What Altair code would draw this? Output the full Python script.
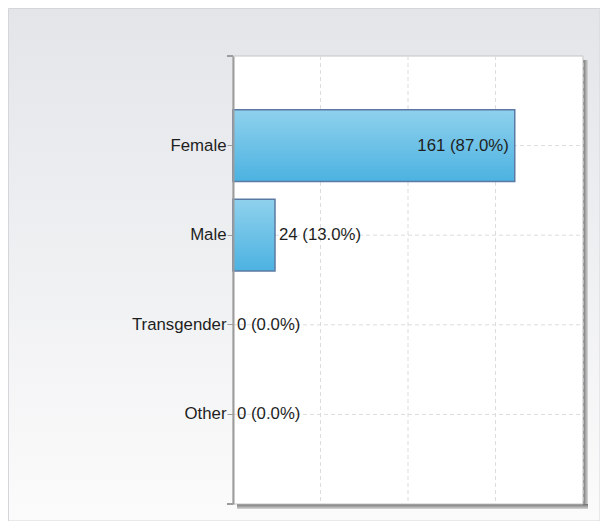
import altair as alt
import pandas as pd

categories = ["Female", "Male", "Transgender", "Other"]
counts = [161, 24, 0, 0]
percents = [87.0, 13.0, 0.0, 0.0]
grid_values = [50, 100, 150, 200]
x_max = 200

W, H = 350, 448
PL, PT, PR, PB = 225, 48, 17, 17
FONT = "Liberation Sans"
FS = 16.8

df = pd.DataFrame({
    "category": categories,
    "count": counts,
    "label": [f"{c} ({p:.1f}%)" for c, p in zip(counts, percents)],
})
grid_df = pd.DataFrame({"g": grid_values})
one = pd.DataFrame({"a": [0]})

xscale = alt.Scale(domain=[0, x_max], nice=False, zero=True)
yscale = alt.Scale(domain=categories, paddingInner=0.2, paddingOuter=0.6)

yaxis = alt.Axis(zindex=2, domainColor="#9c9c9c", domainWidth=2, tickColor="#9c9c9c",
                 tickSize=6, labelPadding=1, labelColor="#1e1e1e",
                 labelFont=FONT, labelFontSize=FS, grid=False, title=None)
ycat = alt.Y("category:N", sort=categories, scale=yscale, title=None, axis=yaxis)

bg = alt.Chart(one).mark_rect(
    fill=alt.LinearGradient(gradient="linear", x1=0, y1=0, x2=0, y2=1,
                            stops=[alt.GradientStop(offset=0, color="#e3e5e9"),
                                   alt.GradientStop(offset=1, color="#fbfbfb")]),
    stroke="#d4d6da", strokeWidth=1,
).encode(x=alt.value(-PL + 0.5), x2=alt.value(W + PR), y=alt.value(-PT + 0.5), y2=alt.value(H + PB))

shadow_r = alt.Chart(one).mark_rect(
    fill=alt.LinearGradient(gradient="linear", x1=0, y1=0, x2=1, y2=0,
                            stops=[alt.GradientStop(offset=0, color="#6e6e6e"),
                                   alt.GradientStop(offset=1, color="#d8d8d8")]),
).encode(x=alt.value(W), x2=alt.value(W + 5), y=alt.value(4), y2=alt.value(H + 5))

shadow_b = alt.Chart(one).mark_rect(
    fill=alt.LinearGradient(gradient="linear", x1=0, y1=0, x2=0, y2=1,
                            stops=[alt.GradientStop(offset=0, color="#6e6e6e"),
                                   alt.GradientStop(offset=1, color="#d8d8d8")]),
).encode(x=alt.value(4), x2=alt.value(W + 5), y=alt.value(H), y2=alt.value(H + 5))

plot_bg = alt.Chart(one).mark_rect(fill="white", stroke="#c4c4c4", strokeWidth=1).encode(
    x=alt.value(0), x2=alt.value(W), y=alt.value(0), y2=alt.value(H))

vgrid = alt.Chart(grid_df).mark_rule(color="#dcdcdc", strokeDash=[4, 3], strokeWidth=1).encode(
    x=alt.X("g:Q", scale=xscale, axis=None), y=alt.value(0), y2=alt.value(H))

hgrid = alt.Chart(df).mark_rule(color="#dcdcdc", strokeDash=[4, 3], strokeWidth=1).encode(
    y=ycat, x=alt.value(0), x2=alt.value(W))

bars = alt.Chart(df).mark_bar(
    fill=alt.LinearGradient(gradient="linear", x1=0, y1=0, x2=0, y2=1,
                            stops=[alt.GradientStop(offset=0, color="#8fd1ed"),
                                   alt.GradientStop(offset=1, color="#4cb2e1")]),
    stroke="#5b7aa3", strokeWidth=1.5,
).transform_filter("datum.count > 0").encode(
    x=alt.X("count:Q", scale=xscale, axis=None), y=ycat)

text_in = alt.Chart(df).mark_text(align="right", dx=-6, font=FONT, fontSize=FS, color="#1e1e1e").transform_filter(
    "datum.count > 100").encode(
    x=alt.X("count:Q", scale=xscale, axis=None), y=ycat, text="label:N")

text_out = alt.Chart(df).mark_text(align="left", dx=4, font=FONT, fontSize=FS, color="#1e1e1e").transform_filter(
    "datum.count <= 100").encode(
    x=alt.X("count:Q", scale=xscale, axis=None), y=ycat, text="label:N")

edge_tick_t = alt.Chart(one).mark_rule(color="#9c9c9c", strokeWidth=2).encode(
    x=alt.value(-6), x2=alt.value(0), y=alt.value(0))
edge_tick_b = alt.Chart(one).mark_rule(color="#9c9c9c", strokeWidth=2).encode(
    x=alt.value(-6), x2=alt.value(0), y=alt.value(H))

chart = alt.layer(bg, shadow_r, shadow_b, plot_bg, vgrid, hgrid, bars, text_in, text_out,
                  edge_tick_t, edge_tick_b).properties(
    width=W, height=H,
    autosize=alt.AutoSizeParams(type="none"),
    padding={"left": PL, "top": PT, "right": PR, "bottom": PB},
).configure_view(stroke=None).configure(background="#fbfbfb")

chart.save("out.html", embed_options={"renderer": "svg", "actions": False})
